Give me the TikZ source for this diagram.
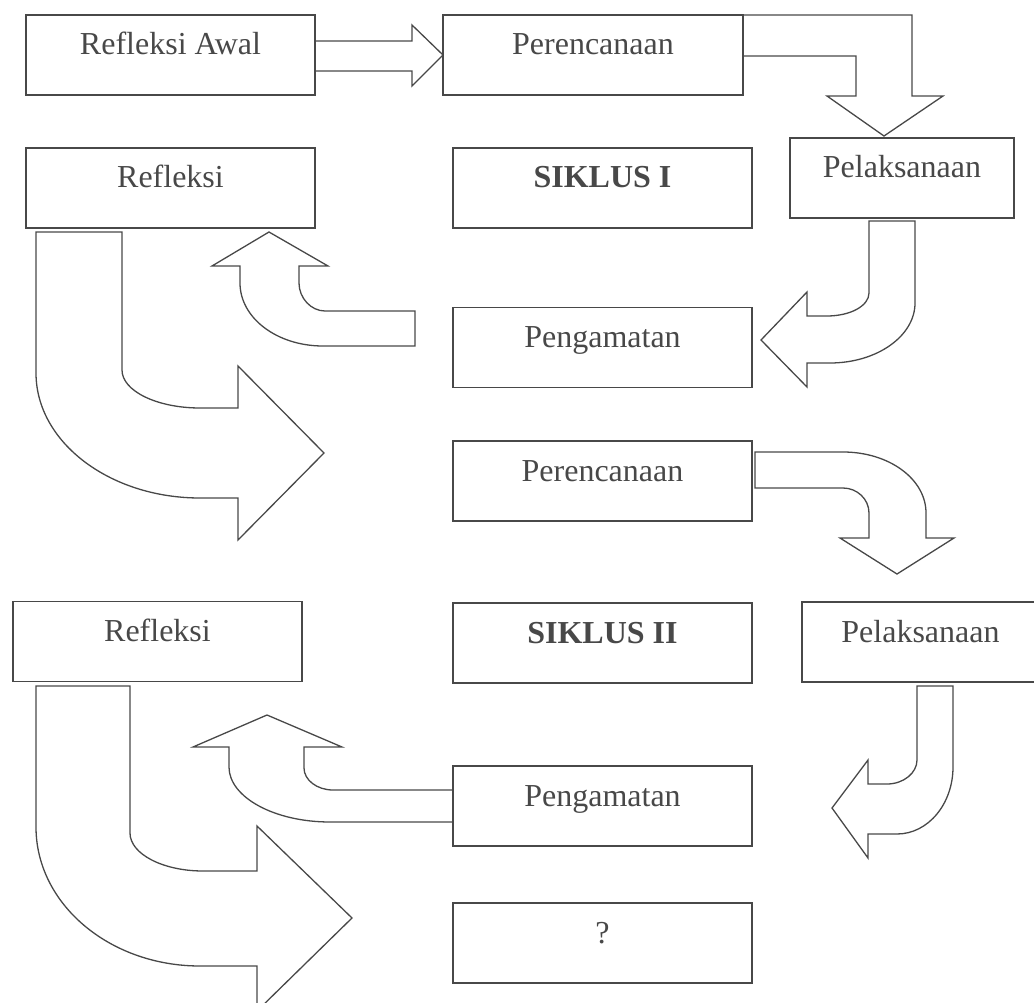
\documentclass[tikz,border=0pt]{standalone}
\usepackage{fontspec}
\setmainfont{Liberation Serif}
\usepackage{xcolor}
\definecolor{garis}{RGB}{72,72,72}

\tikzset{
  kotak/.style={draw=garis, line width=1.7pt, inner sep=0pt, text=garis,
    text height=40pt, text depth=40pt, minimum width=#1,
    font=\fontsize{32}{38}\selectfont},
  kotak/.default=299pt,
  panah/.style={draw=garis, line width=1.3pt, line join=miter}
}

\begin{document}
\begin{tikzpicture}[x=1pt,y=1pt,yscale=-1]
    \useasboundingbox (0,0) rectangle (1034,1003);
    \clip (0,0) rectangle (1034,1003);

    % Text Node
    \node [kotak=289pt] (awal) at (170.5,55) {Refleksi Awal};
    % Text Node
    \node [kotak=300pt] (rencanaI) at (593,55) {Perencanaan};
    % Text Node
    \node [kotak=289pt] (refleksiI) at (170.5,188) {Refleksi};
    % Text Node
    \node [kotak] (siklusI) at (602.5,188) {\textbf{SIKLUS I}};
    % Text Node
    \node [kotak=224pt] (laksanaI) at (902,178) {Pelaksanaan};
    % Text Node
    \node [kotak] (amatI) at (602.5,347.5) {Pengamatan};
    % Text Node
    \node [kotak] (rencanaII) at (602.5,481) {Perencanaan};
    % Text Node
    \node [kotak=289pt] (refleksiII) at (157.5,641.5) {Refleksi};
    % Text Node
    \node [kotak] (siklusII) at (602.5,643) {\textbf{SIKLUS II}};
    % Text Node
    \node [kotak=237pt] (laksanaII) at (920.5,642) {Pelaksanaan};
    % Text Node
    \node [kotak] (amatII) at (602.5,806) {Pengamatan};
    % Text Node
    \node [kotak] (tanya) at (602.5,943) {?};

    %Right Arrow
    \draw [panah] (315,41) -- (412,41) -- (412,25) -- (443,55) -- (412,86) -- (412,71) -- (315,71);
    %Bent Arrow
    \draw [panah] (743,15) -- (912,15) -- (912,96) -- (943,96) -- (884,136) -- (827,96) -- (856,96) -- (856,56) -- (743,56);
    %Curved Arrow
    \draw [panah] (869,221) -- (869,293) .. controls (869,306) and (850,316) .. (827,316) -- (807,316) -- (807,292) -- (761,340) -- (807,387) -- (807,363) -- (830,363) .. controls (877,363) and (915,336) .. (915,303) -- (915,221) -- cycle;
    %Curved Arrow
    \draw [panah] (415,311) -- (325,311) .. controls (311,311) and (299,298) .. (299,283) -- (299,266) -- (328,266) -- (269,232) -- (212,266) -- (240,266) -- (240,283) .. controls (240,318) and (277,346) .. (323,346) -- (415,346) -- cycle;
    %Curved Arrow
    \draw [panah] (36,232) -- (122,232) -- (122,370) .. controls (122,391) and (157,408) .. (200,408) -- (238,408) -- (238,366) -- (324,453) -- (238,540) -- (238,498) -- (200,498) .. controls (109.5,498) and (36,442) .. (36,373) -- cycle;
    %Curved Arrow
    \draw [panah] (755,452) -- (843,452) .. controls (889,452) and (926,479) .. (926,513) -- (926,538) -- (954,538) -- (897,574) -- (840,538) -- (869,538) -- (869,513) .. controls (869,499) and (857,488) .. (843,488) -- (755,488) -- cycle;
    %Curved Arrow
    \draw [panah] (917,686) -- (953,686) -- (953,767) .. controls (953,804) and (928,834) .. (897,834) -- (868,834) -- (868,858) -- (832,808) -- (868,760) -- (868,784) -- (887,784) .. controls (903.5,784) and (917,773) .. (917,760) -- cycle;
    %Curved Arrow
    \draw [panah] (452,790) -- (333,790) .. controls (317,790) and (304,780) .. (304,768) -- (304,747) -- (342,747) -- (267,715) -- (193,747) -- (229,747) -- (229,767) .. controls (229,797) and (274,822) .. (330,822) -- (452,822);
    %Curved Arrow
    \draw [panah] (36,686) -- (130,686) -- (130,833) .. controls (130,854) and (163,871) .. (203,871) -- (257,871) -- (257,826) -- (352,918) -- (257,1011) -- (257,966) -- (200,966) .. controls (109.5,966) and (36,904) .. (36,827) -- cycle;

\end{tikzpicture}
\end{document}
